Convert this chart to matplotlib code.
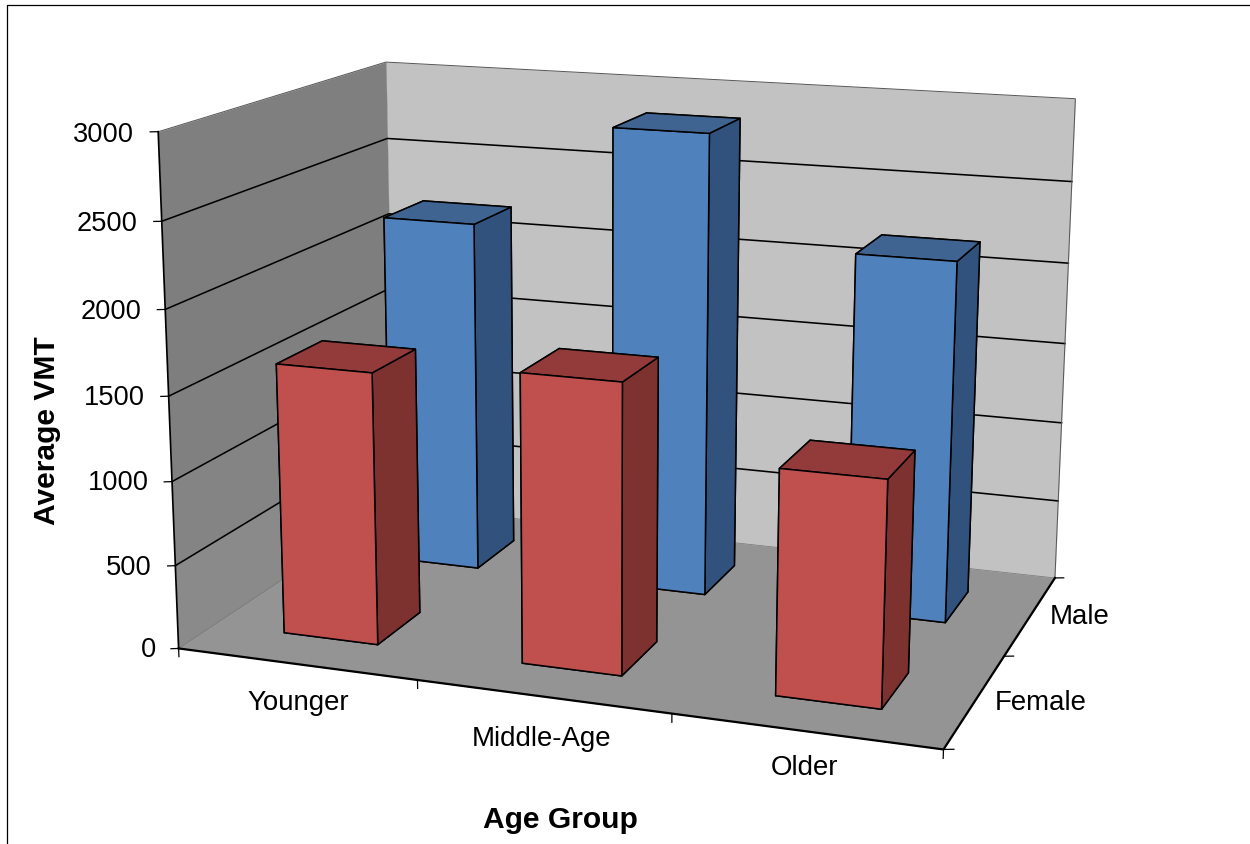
import numpy as np
import matplotlib
matplotlib.use("Agg")
import matplotlib.pyplot as plt
from matplotlib.lines import Line2D
from mpl_toolkits.mplot3d.art3d import Poly3DCollection

plt.rcParams["font.family"] = ["Liberation Sans", "DejaVu Sans"]

# values
age_groups = ["Younger", "Middle-Age", "Older"]
genders = ["Female", "Male"]
female_vmt = [1620, 1700, 1300]
male_vmt = [2195, 2840, 2185]
z_ticks = [0, 500, 1000, 1500, 2000, 2500, 3000]

# faces in bar3d order: bottom, top, front, back, left, right
FEMALE_FACES = ["#C0504D", "#933A3A", "#C0504D", "#C0504D", "#7D3230", "#7D3230"]
MALE_FACES = ["#4F81BD", "#3F6492", "#4F81BD", "#4F81BD", "#31527D", "#31527D"]
BAR_START = 0.3
BAR_SIZE = 0.4

W, H = 1250, 845
# camera fitted against the corners of the reference box
CENTER_X, CENTER_Y, PX_SCALE = 634.72, 369.84, 5540.17

fig = plt.figure(figsize=(W / 100, H / 100), dpi=100, facecolor="white")
ax = fig.add_axes([0.1, 0.1, 0.6, 0.6], projection="3d", computed_zorder=False)
ax.view_init(elev=14.15, azim=-70.54, roll=-0.19)
ax.set_box_aspect((1, 0.6669, 0.6675), zoom=1)
ax.set_proj_type("persp", focal_length=float(np.exp(-0.7001)))
ax.set_axis_off()
ax.patch.set_visible(False)

# put the view centre where it belongs in pixels, axes stay square
lo_x, hi_x = ax.viewLim.intervalx
lo_y, hi_y = ax.viewLim.intervaly
side = PX_SCALE * (hi_x - lo_x)
ax.set_position([(CENTER_X + PX_SCALE * lo_x) / W,
                 (H - CENTER_Y + PX_SCALE * lo_y) / H,
                 side / W, side / H])

x_max = len(age_groups)
y_max = len(genders)
z_max = z_ticks[-1]


def add_wall(verts, color):
    ax.add_collection3d(Poly3DCollection([verts], facecolors=color, edgecolors=color,
                                         linewidths=0.2, zorder=1))


# walls and floor
add_wall([(0, y_max, 0), (x_max, y_max, 0), (x_max, y_max, z_max), (0, y_max, z_max)], "#C2C2C2")
add_wall([(0, 0, 0), (x_max, 0, 0), (x_max, y_max, 0), (0, y_max, 0)], "#949494")
left_shades = ["#8A8A8A", "#848484", "#808080", "#7E7E7E", "#7E7E7E", "#7F7F7F"]
for low, high, shade in zip(z_ticks[:-1], z_ticks[1:], left_shades):
    add_wall([(0, 0, low), (0, y_max, low), (0, y_max, high), (0, 0, high)], shade)

# gridlines run along the left wall and the back wall
for z in z_ticks[1:-1]:
    ax.plot([0, 0, x_max], [0, y_max, y_max], [z, z, z], color="black", lw=1.15, zorder=2)

# thin outlines of the box
ax.plot([0, 0, x_max, x_max], [0, y_max, y_max, y_max], [z_max, z_max, z_max, 0],
        color="#555555", lw=0.7, zorder=2)
ax.plot([0, 0, x_max], [0, y_max, y_max], [0, 0, 0], color="#777777", lw=0.5, zorder=2)

# bars, back row first
for row, (values, faces) in enumerate([(male_vmt, MALE_FACES), (female_vmt, FEMALE_FACES)]):
    y_pos = 1 - row + BAR_START
    for i, value in enumerate(values):
        ax.bar3d(i + BAR_START, y_pos, 0, BAR_SIZE, BAR_SIZE, value, color=faces,
                 edgecolor="black", linewidth=1.1, shade=False, zorder=3 + row)

# axis lines and tick marks
ax.plot([0, 0], [0, 0], [0, z_max], color="black", lw=1.25, zorder=6)
ax.plot([0, x_max, x_max], [0, 0, y_max], [0, 0, 0], color="black", lw=1.6, zorder=6)
for z in z_ticks:
    ax.plot([0, -0.026], [0, -0.013], [z, z], color="black", lw=0.9, zorder=6)
for x in range(x_max + 1):
    ax.plot([x, x], [0, 0], [0, -50], color="black", lw=0.9, zorder=6)
for y in range(y_max + 1):
    ax.plot([x_max, x_max + 0.034], [y, y + 0.014], [0, 0], color="black", lw=0.9, zorder=6)

ax.set_xlim(0, x_max, view_margin=0)
ax.set_ylim(0, y_max, view_margin=0)
ax.set_zlim(0, z_max, view_margin=0)


def px_text(x, y, label, **kwargs):
    fig.text(x / W, 1 - y / H, label, color="black", **kwargs)


# value labels follow the slanted z axis
tick_rows = [650, 568, 483, 398, 312, 224, 135]
tick_rights = [156, 152, 149, 145, 142, 138, 134]
for z, row, right in zip(z_ticks, tick_rows, tick_rights):
    px_text(right, row, str(z), fontsize=19.6, ha="right", va="center")

for label, x, y in zip(age_groups, [298, 542, 805], [703, 739, 768]):
    px_text(x, y, label, fontsize=19.9, ha="center", va="center")
for label, x, y in zip(genders, [1041, 1080], [703, 617]):
    px_text(x, y, label, fontsize=19.9, ha="center", va="center")

px_text(560, 820, "Age Group", fontsize=21.6, fontweight="bold", ha="center", va="center")
px_text(47, 431, "Average VMT", fontsize=21.6, fontweight="bold", rotation=90,
        ha="center", va="center")

# picture frame, open to the right and bottom
fig.add_artist(Line2D([7 / W, 7 / W, 1], [0, 1 - 5.5 / H, 1 - 5.5 / H],
                      color="black", lw=0.9, transform=fig.transFigure, zorder=10))

fig.savefig("out.png", dpi=100)
